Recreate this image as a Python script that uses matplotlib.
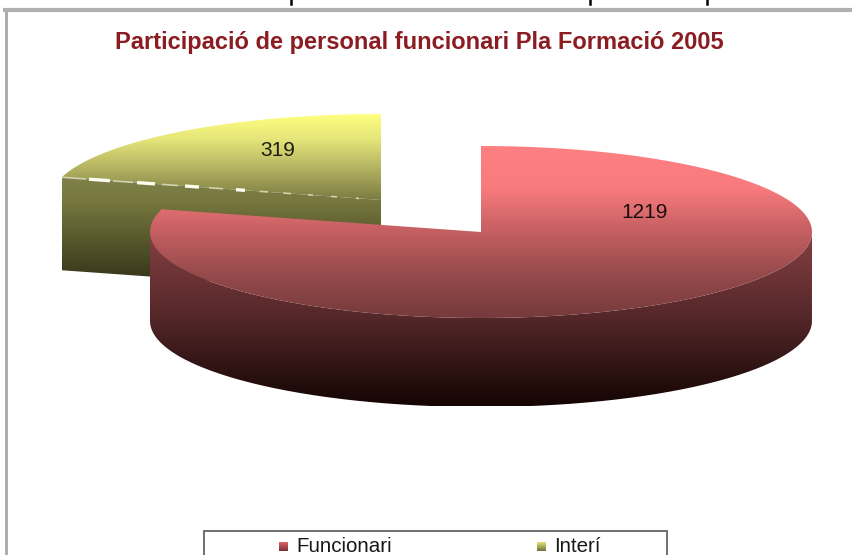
import numpy as np
import matplotlib
matplotlib.use("Agg")
import matplotlib.pyplot as plt
from matplotlib.colors import LinearSegmentedColormap
from matplotlib.patches import PathPatch, Rectangle
from matplotlib.path import Path

categories = ["Funcionari", "Interí"]
values = [1219, 319]
title = "Participació de personal funcionari Pla Formació 2005"

RX, RY, DEPTH = 331, 86, 89

# x ranges of the white dashes on the cut edge of the small slice
dash_x0 = [63, 89, 113, 137, 162, 185, 209, 236, 260, 283, 308, 331, 356]
dash_x1 = [86, 110, 133, 155, 178, 199, 223, 245, 268, 291, 313, 337, 359]


def arc(cx, cy, t0, t1, rx=RX, ry=RY):
    t = np.radians(np.linspace(t0, t1, 200))
    return np.column_stack([cx + rx * np.cos(t), cy - ry * np.sin(t)])


def fill(ax, pts, y0, y1, stops):
    # vertical gradient clipped to a polygon
    cmap = LinearSegmentedColormap.from_list("g", stops)
    xmin, xmax = pts[:, 0].min(), pts[:, 0].max()
    grad = np.linspace(0, 1, 256).reshape(-1, 1)
    im = ax.imshow(grad, cmap=cmap, aspect="auto", origin="upper",
                   extent=[xmin, xmax, y1, y0], zorder=ax.zo)
    patch = PathPatch(Path(np.vstack([pts, pts[:1]])), transform=ax.transData,
                      fc="none", ec="none")
    ax.add_patch(patch)
    im.set_clip_path(patch)
    ax.zo += 1


plt.rcParams["font.family"] = ["Liberation Sans", "DejaVu Sans"]
fig = plt.figure(figsize=(8.53, 5.55), dpi=100)
ax = fig.add_axes([0, 0, 1, 1])
ax.zo = 2

sweep = 360 * np.array(values) / sum(values)
end = 90 - sweep[0]

# Interí slice, pulled out to the left
cx, cy = 381, 200
rim = arc(cx, cy, 90, 90 + sweep[1])
corner = rim[-1]
face = np.array([corner, [cx, cy], [cx, cy + DEPTH + 4], corner + [0, DEPTH + 4]])
fill(ax, face, 178, 293, [(0, "#80804a"), (0.2, "#77773f"), (1, "#2c2c14")])
fill(ax, np.vstack([rim, [[cx, cy]]]), 114, 200,
     [(0, "#ffff80"), (0.3, "#e4e47a"), (0.7, "#a8a85c"), (1, "#7b7b42")])

# broken white line along the cut edge, fading out toward the middle
slope = (cy - corner[1]) / (cx - corner[0])
for i, (a, b) in enumerate(zip(dash_x0, dash_x1)):
    ya = corner[1] + (a - corner[0]) * slope
    yb = corner[1] + (b - corner[0]) * slope
    thick = i % 2 == 1 and i < 9
    ax.plot([a, b], [ya, yb], color="#fdfdf0" if thick else "#d2d2b0",
            lw=2.4 if thick else 1.2, zorder=20, solid_capstyle="butt")

# Funcionari slice
cx, cy = 481, 232
rim = arc(cx, cy, 90, end)
front = arc(cx, cy, 180, 360)
side = np.vstack([front, (front + [0, DEPTH])[::-1]])
ax.zo = 30
fill(ax, side, 235, 406, [(0, "#843f42"), (0.5, "#522628"), (1, "#140503")])
fill(ax, np.vstack([rim, [[cx, cy]]]), 146, 318,
     [(0, "#ff8082"), (0.25, "#f77a7c"), (0.5, "#c45f62"), (0.75, "#954a4c"), (1, "#763a3c")])

ax.text(278, 150.5, str(values[1]), ha="center", va="center", fontsize=15, color="#1c1c10", zorder=40)
ax.text(645, 213, str(values[0]), ha="center", va="center", fontsize=15, color="#1c0c0c", zorder=40)
ax.text(419.5, 42, title, ha="center", va="center", fontsize=17, fontweight="bold",
        color="#8a1c22", zorder=40)

# chart frame
ax.plot([6, 6], [555, 10], color="#a8a8a8", lw=2, zorder=40)
ax.plot([5, 853], [10, 10], color="#b0b0b0", lw=3, zorder=40)
# bits of the heading cut off above the picture
for x in [291, 590, 707]:
    ax.plot([x, x], [0, 4], color="black", lw=1.8, zorder=40)

# legend, cut by the lower edge
ax.add_patch(Rectangle((204, 531), 463, 40, fc="white", ec="#707070", lw=1.4, zorder=41))
key_stops = [["#e06468", "#7a3034"], ["#e6e678", "#70703a"]]
key_x = [279, 537]
text_x = [296, 554]
ax.zo = 42
for name, kx, tx, stops in zip(categories, key_x, text_x, key_stops):
    sq = np.array([[kx, 542], [kx + 9, 542], [kx + 9, 551], [kx, 551]], dtype=float)
    fill(ax, sq, 542, 551, stops)
    ax.text(tx, 546, name, ha="left", va="center", fontsize=14.8, color="#181818", zorder=43)

ax.set_xlim(0, 853)
ax.set_ylim(555, 0)
ax.axis("off")
fig.savefig("out.png", dpi=100, facecolor="white")
